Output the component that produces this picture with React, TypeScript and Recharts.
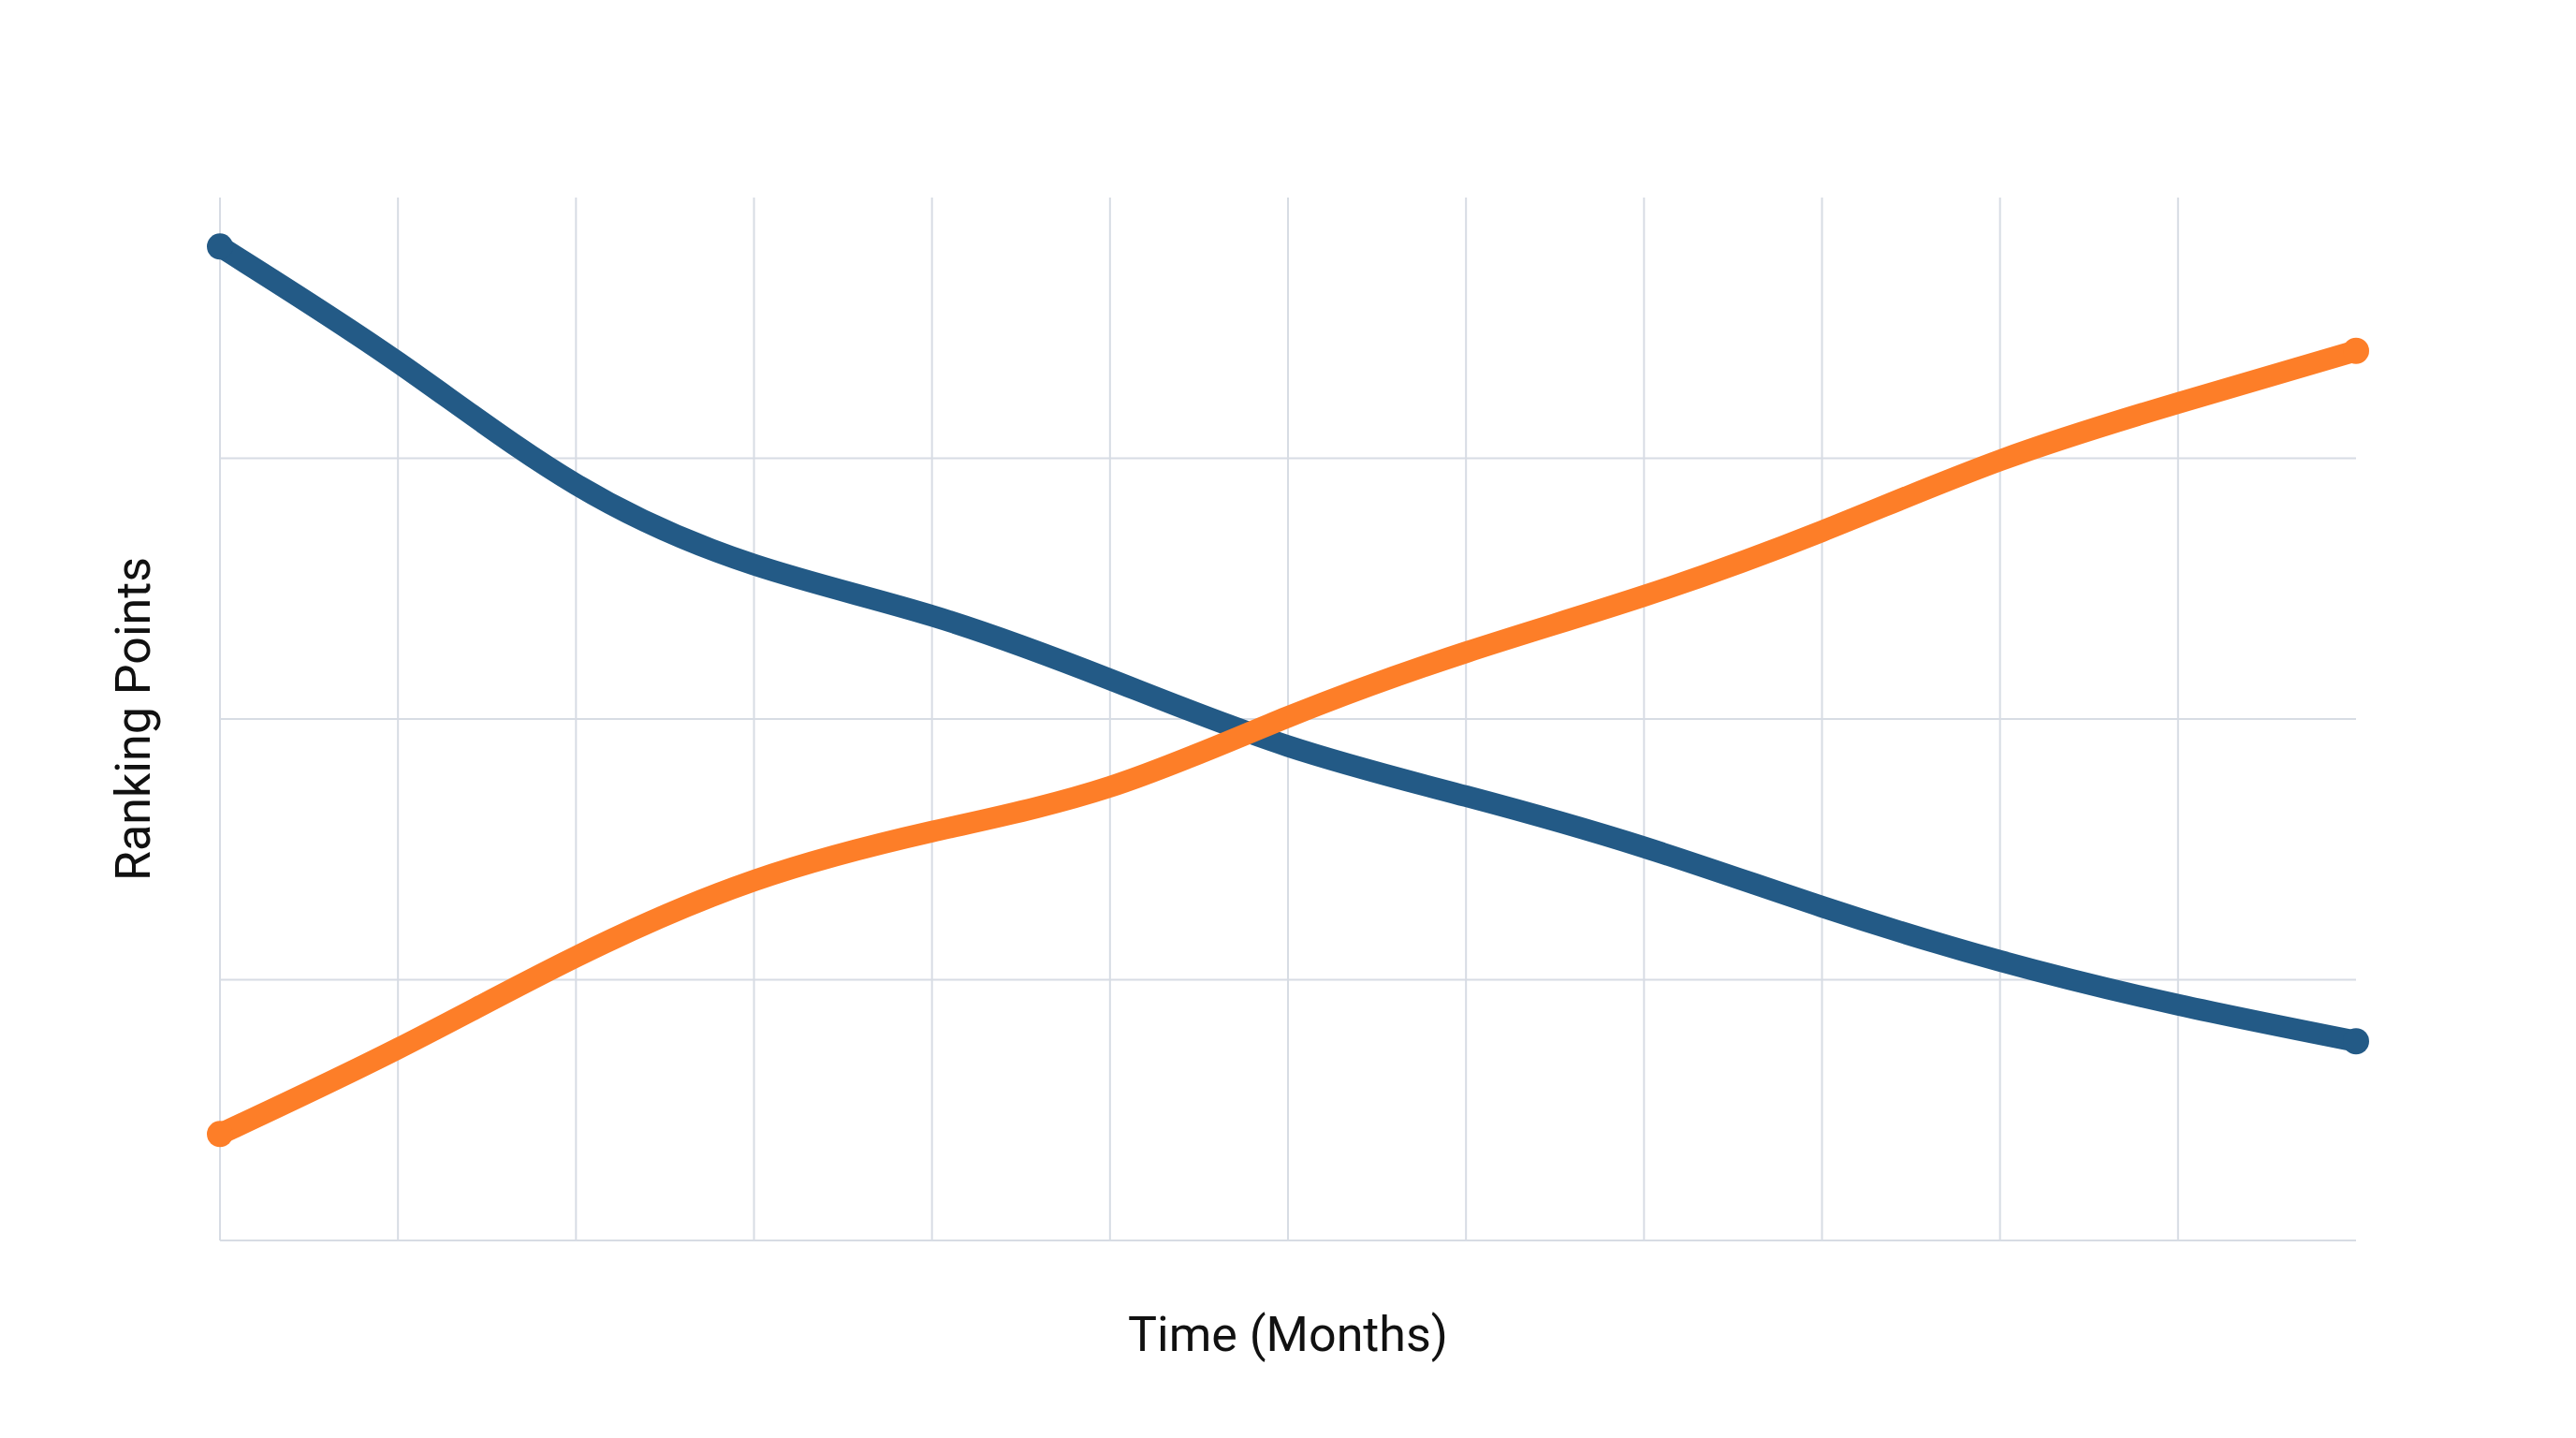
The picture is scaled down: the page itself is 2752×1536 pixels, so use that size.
import React from 'react';
import {
  LineChart,
  Line,
  XAxis,
  YAxis,
  CartesianGrid,
  Label,
} from 'recharts';

// months along the x axis (0..12), grid lines only at 0..11
const months = [0, 1, 2, 3, 4, 5, 6, 7, 8, 9, 10, 11, 12];
const monthTicks = [0, 1, 2, 3, 4, 5, 6, 7, 8, 9, 10, 11];

// ranking points
const bluePoints = [95.3, 84.2, 72.5, 64.8, 59.9, 53.8, 47.4, 42.6, 37.7, 32.0, 26.8, 22.6, 19.1];
const orangePoints = [10.2, 18.4, 27.2, 34.5, 39.2, 43.5, 50.2, 56.4, 61.8, 68.0, 74.8, 80.3, 85.3];

const pointTicks = [0, 25, 50, 75];

const BLUE = '#235a86';
const ORANGE = '#fd7e28';
const GRID = '#d7dce4';

const chartData = months.map((m, i) => ({
  month: m,
  blue: bluePoints[i],
  orange: orangePoints[i],
}));

// ticks are only there to feed the grid, nothing is drawn for them
function NoTick() {
  return <g />;
}

// run tick values through the axis scale (callable d3 scale or wrapper with map)
function project(axis: any, values: number[]) {
  const s = axis?.scale;
  if (!s) return [];
  return values.map((v) => (typeof s === 'function' ? s(v) : s.map(v)));
}

// only the first and last point get a round dot
function endDot(color: string) {
  return (props: any) => {
    const { cx, cy, index } = props;
    if (index !== 0 && index !== months.length - 1) {
      return <g key={`d-${color}-${index}`} />;
    }
    return <circle key={`d-${color}-${index}`} cx={cx} cy={cy} r={14} fill={color} />;
  };
}

export default function App() {
  return (
    <div style={{ position: 'absolute', left: 0, top: 0, background: '#fff' }}>
      <LineChart
        width={2752}
        height={1536}
        data={chartData}
        margin={{ top: 211, right: 235, bottom: 0, left: 0 }}
        style={{ fontFamily: 'Roboto, sans-serif' }}
      >
        <CartesianGrid
          stroke={GRID}
          strokeWidth={2}
          horizontalCoordinatesGenerator={({ yAxis }: any) => project(yAxis, pointTicks)}
          verticalCoordinatesGenerator={({ xAxis }: any) => project(xAxis, monthTicks)}
        />
        <XAxis
          dataKey="month"
          type="number"
          domain={[0, 12]}
          ticks={monthTicks}
          interval={0}
          tick={<NoTick />}
          tickLine={false}
          axisLine={false}
          height={211}
        >
          <Label
            value="Time (Months)"
            position="insideTop"
            offset={81}
            fontSize={52}
            fill="#111"
          />
        </XAxis>
        <YAxis
          type="number"
          domain={[0, 100]}
          ticks={pointTicks}
          interval={0}
          tick={<NoTick />}
          tickLine={false}
          axisLine={false}
          width={235}
        >
          <Label
            value="Ranking Points"
            position="insideLeft"
            offset={142}
            angle={-90}
            fontSize={52}
            fill="#111"
            style={{ textAnchor: 'middle' }}
          />
        </YAxis>
        <Line
          type="natural"
          dataKey="blue"
          stroke={BLUE}
          strokeWidth={23}
          strokeLinecap="round"
          dot={endDot(BLUE)}
          activeDot={false}
          isAnimationActive={false}
        />
        <Line
          type="natural"
          dataKey="orange"
          stroke={ORANGE}
          strokeWidth={23}
          strokeLinecap="round"
          dot={endDot(ORANGE)}
          activeDot={false}
          isAnimationActive={false}
        />
      </LineChart>
    </div>
  );
}
